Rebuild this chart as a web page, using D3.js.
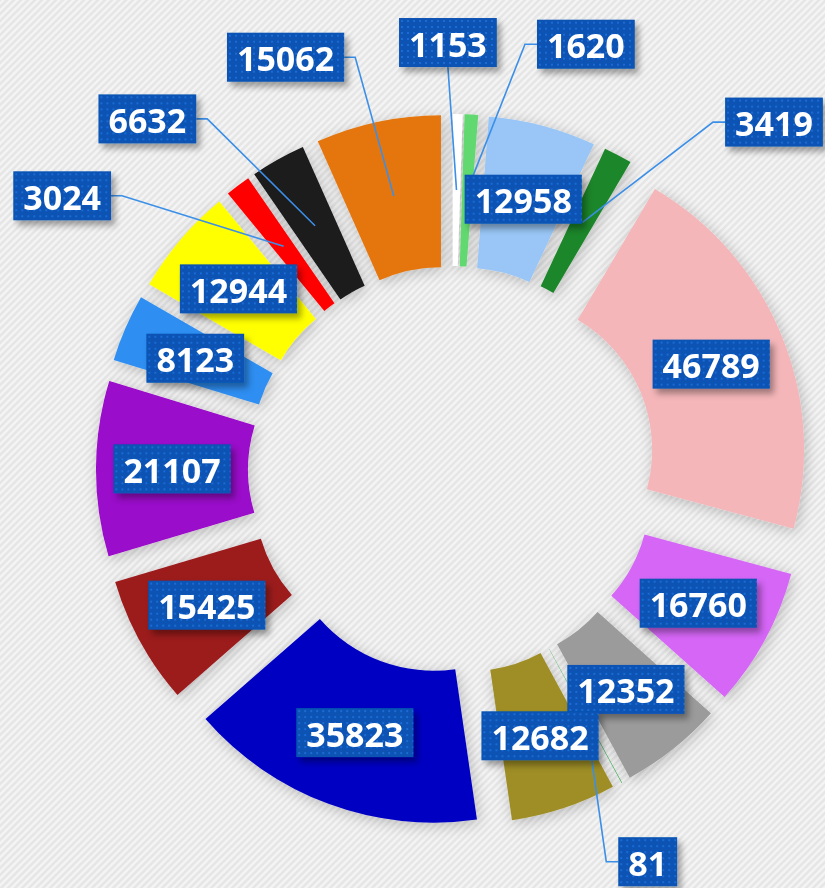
<!DOCTYPE html>
<html>
<head>
<meta charset="utf-8">
<script src="https://cdn.jsdelivr.net/npm/d3@7"></script>
<style>
  html, body { margin: 0; padding: 0; background: #f2f2f2; }
  svg { display: block; }
</style>
</head>
<body>
<svg id="chart" width="825" height="888"></svg>
<script>
// ---- data (clockwise from 12 o'clock) ----
const values = [1153, 1620, 12958, 3419, 46789, 16760, 12352, 81, 12682, 35823, 15425, 21107, 8123, 12944, 3024, 6632, 15062];
const colors = ["#ffffff", "#62d96f", "#99c6f6", "#1d862c", "#f4b6b9", "#d566f6", "#9b9b9b", "#3aa655", "#9f8e26", "#0000c2", "#9c1a1f", "#9a07ca", "#2e8ef2", "#ffff00", "#ff0000", "#1a1a1a", "#e4760e"];
// label layout: inside, outside with leader to the side, or outside above
const labelMode = ["top", "side", "in", "side", "in", "in", "in", "side", "in", "in", "in", "in", "in", "in", "side", "side", "side"];
const labelShiftDeg = [-1.5, 6.6, 0, 9.1, 0, 0, 0, 7.0, 0, 0, 0, 0, 0, 0, -13.3, -5.6, -1.2];
const labelRingR = [403, 432, 0, 435, 0, 0, 0, 421, 0, 0, 0, 0, 0, 0, 429, 428, 424];

// ---- layout ----
const W = 825, H = 888;
const cx = 452, cy = 470;
const rIn = 151, rOut = 303, explode = 53;
const fontSize = 34, padX = 10, boxH = 49;

const svg = d3.select("#chart");
const defs = svg.append("defs");

// background stripes
const bg = defs.append("pattern").attr("id", "stripes").attr("patternUnits", "userSpaceOnUse")
  .attr("width", 7).attr("height", 7);
bg.append("rect").attr("width", 7).attr("height", 7).attr("fill", "#f4f4f4");
bg.append("path").attr("d", "M-2,2 L2,-2 M0,7 L7,0 M5,9 L9,5").attr("stroke", "#e6e6e6").attr("stroke-width", 2.6);

// label texture
const dots = defs.append("pattern").attr("id", "dots").attr("patternUnits", "userSpaceOnUse")
  .attr("width", 6).attr("height", 6);
dots.append("rect").attr("width", 6).attr("height", 6).attr("fill", "#0753b4");
dots.append("rect").attr("x", 2).attr("y", 2).attr("width", 2).attr("height", 2).attr("fill", "#1c6bd4");

// shadows
const fSlice = defs.append("filter").attr("id", "sliceShadow").attr("x", "-30%").attr("y", "-30%").attr("width", "160%").attr("height", "160%");
fSlice.append("feDropShadow").attr("dx", 2).attr("dy", 3).attr("stdDeviation", 7)
  .attr("flood-color", "#000").attr("flood-opacity", 0.22);
const fBox = defs.append("filter").attr("id", "boxShadow").attr("x", "-20%").attr("y", "-30%").attr("width", "150%").attr("height", "170%");
fBox.append("feDropShadow").attr("dx", 4).attr("dy", 5).attr("stdDeviation", 3)
  .attr("flood-color", "#000").attr("flood-opacity", 0.35);

svg.append("rect").attr("width", W).attr("height", H).attr("fill", "url(#stripes)");

const pie = d3.pie().sort(null).value(d => d.value).startAngle(0).endAngle(2 * Math.PI);
const data = values.map((v, i) => ({ value: v, color: colors[i], mode: labelMode[i], shift: labelShiftDeg[i], ring: labelRingR[i] }));
const arcs = pie(data);
const arc = d3.arc().innerRadius(rIn).outerRadius(rOut);

function offsetOf(a) {
  const m = (a.startAngle + a.endAngle) / 2;
  return [explode * Math.sin(m), -explode * Math.cos(m)];
}

const g = svg.append("g").attr("transform", `translate(${cx},${cy})`);

const sliceG = g.append("g").attr("filter", "url(#sliceShadow)");
sliceG.selectAll("path").data(arcs).join("path")
  .attr("transform", d => { const o = offsetOf(d); return `translate(${o[0]},${o[1]})`; })
  .attr("d", arc)
  .attr("fill", d => d.data.color);

// label geometry
const measure = svg.append("text").attr("font-family", "'Open Sans', sans-serif")
  .attr("font-weight", 700).attr("font-size", fontSize).attr("visibility", "hidden");
function textW(s) { measure.text(s); return measure.node().getComputedTextLength(); }

const labels = arcs.map(d => {
  const o = offsetOf(d);
  const c = arc.centroid(d);
  const anchor = [c[0] + o[0], c[1] + o[1]];
  const txt = String(d.data.value);
  const w = textW(txt) + 2 * padX;
  const m = (d.startAngle + d.endAngle) / 2 + d.data.shift * Math.PI / 180;
  const r = d.data.ring;
  let box, line = null;
  if (d.data.mode === "in") {
    box = { x: anchor[0] - w / 2, y: anchor[1] - boxH / 2 };
  } else if (d.data.mode === "top") {
    const e = [r * Math.sin(m), -r * Math.cos(m)];
    line = [anchor, e];
    box = { x: e[0] - w / 2, y: e[1] - boxH };
  } else {
    const e = [r * Math.sin(m), -r * Math.cos(m)];
    const right = Math.sin(m) >= 0;
    const leg = right ? 12 : -11;
    const end = [e[0] + leg, e[1]];
    line = [anchor, e, end];
    box = { x: right ? end[0] : end[0] - w, y: e[1] - boxH / 2 };
  }
  return { txt, w, box, line };
});

const lineGen = d3.line();
g.append("g").selectAll("path").data(labels.filter(l => l.line)).join("path")
  .attr("d", l => lineGen(l.line))
  .attr("fill", "none").attr("stroke", "#3b8fe8").attr("stroke-width", 1.6);

const lg = g.append("g").selectAll("g").data(labels).join("g")
  .attr("transform", l => `translate(${l.box.x},${l.box.y})`);
lg.append("rect").attr("width", l => l.w).attr("height", boxH)
  .attr("fill", "url(#dots)").attr("filter", "url(#boxShadow)");
lg.append("text")
  .attr("x", l => l.w / 2).attr("y", boxH / 2 + 1)
  .attr("text-anchor", "middle").attr("dominant-baseline", "central")
  .attr("font-family", "'Open Sans', sans-serif").attr("font-weight", 700)
  .attr("font-size", fontSize).attr("fill", "#ffffff")
  .text(l => l.txt);
</script>
</body>
</html>
